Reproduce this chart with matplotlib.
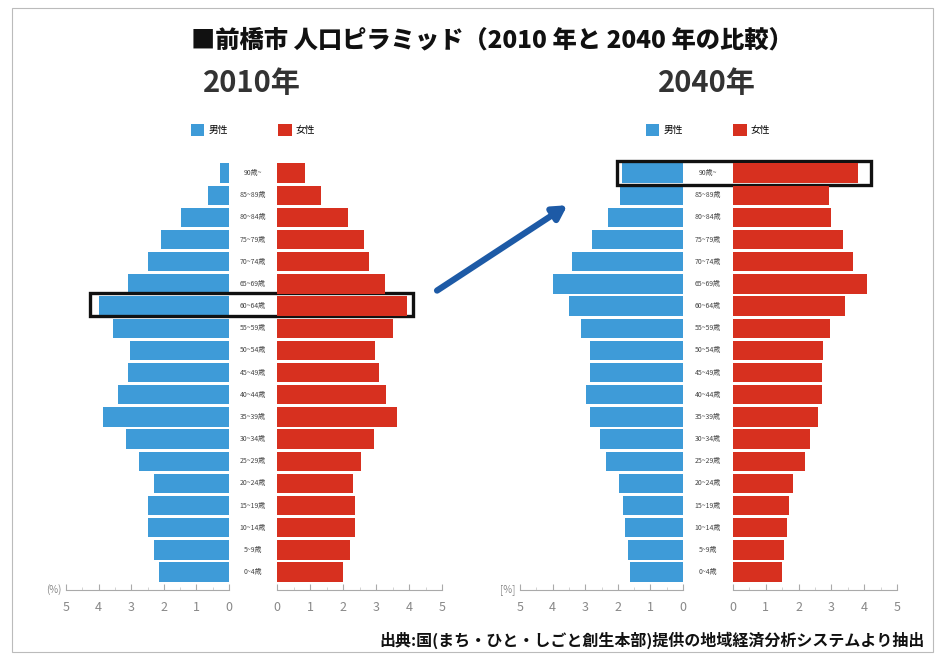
import numpy as np
import matplotlib.pyplot as plt
from matplotlib.patches import Rectangle

plt.rcParams['font.family'] = ['Noto Sans CJK JP', 'DejaVu Sans']

# age groups, bottom (0-4) to top (90+)
ages = ["0~4歳", "5~9歳", "10~14歳", "15~19歳", "20~24歳", "25~29歳", "30~34歳",
        "35~39歳", "40~44歳", "45~49歳", "50~54歳", "55~59歳", "60~64歳",
        "65~69歳", "70~74歳", "75~79歳", "80~84歳", "85~89歳", "90歳~"]

# share of population (%), bottom to top
male_2010 = [2.15, 2.3, 2.5, 2.5, 2.3, 2.75, 3.15, 3.85, 3.4, 3.1, 3.05, 3.55,
             4.0, 3.1, 2.5, 2.1, 1.48, 0.65, 0.28]
female_2010 = [2.0, 2.2, 2.35, 2.35, 2.3, 2.55, 2.95, 3.65, 3.3, 3.1, 2.97, 3.5,
               3.95, 3.27, 2.8, 2.65, 2.15, 1.33, 0.85]
male_2040 = [1.63, 1.69, 1.78, 1.84, 1.96, 2.36, 2.55, 2.85, 2.97, 2.85, 2.85, 3.13,
             3.5, 4.0, 3.4, 2.8, 2.3, 1.93, 1.87]
female_2040 = [1.5, 1.55, 1.65, 1.7, 1.83, 2.2, 2.35, 2.6, 2.7, 2.7, 2.75, 2.95,
               3.4, 4.1, 3.65, 3.35, 3.0, 2.93, 3.8]

blue = '#3e9bd8'
red = '#d7301f'
W, H = 935, 655

fig = plt.figure(figsize=(W / 100, H / 100), dpi=100)
fig.patch.set_facecolor('white')


def add_ax(x0, x1, y0=160, y1=590):
    return fig.add_axes([x0 / W, 1 - y1 / H, (x1 - x0) / W, (y1 - y0) / H])


y = np.arange(len(ages))


def style(ax, inverted):
    ax.set_xlim((5, 0) if inverted else (0, 5))
    ax.set_ylim(-0.81, 18.59)
    for s in ['top', 'left', 'right']:
        ax.spines[s].set_visible(False)
    ax.spines['bottom'].set_color('#aaaaaa')
    ax.spines['bottom'].set_linewidth(0.8)
    ax.set_yticks([])
    ax.set_xticks(range(6))
    ax.set_xticks(np.arange(0.5, 5, 1), minor=True)
    ax.tick_params(axis='x', direction='in', length=4, color='#aaaaaa',
                   labelsize=9, labelcolor='#888888', pad=8)
    ax.tick_params(axis='x', which='minor', direction='in', length=2, color='#cccccc')
    ax.patch.set_alpha(0)


def pyramid(xm0, xm1, xf0, xf1, male, female, pct_label):
    axm = add_ax(xm0, xm1)
    axf = add_ax(xf0, xf1)
    bm = axm.barh(y, male, height=0.87, color=blue, edgecolor='none')
    bf = axf.barh(y, female, height=0.87, color=red, edgecolor='none')
    style(axm, True)
    style(axf, False)
    gap = ((xm1 + xf0) / 2 - xf0) / (xf1 - xf0)
    for yi, lab in zip(y, ages):
        axf.text(gap, yi, lab, transform=axf.get_yaxis_transform(),
                 ha='center', va='center', fontsize=5, color='#444444')
    axm.text(-0.03, 0, pct_label, transform=axm.transAxes, ha='right',
             va='center', fontsize=7, color='#888888')
    return axm, axf, bm, bf


def box(axm, axf, xm, xf, y0, h):
    # frame spanning both halves: convert the female-side x into male data coords
    disp = axf.transData.transform((xf, y0))
    xr = axm.transData.inverted().transform(disp)[0]
    axm.add_patch(Rectangle((xm, y0), xr - xm, h, fill=False, edgecolor='#111111',
                            linewidth=2.4, clip_on=False, zorder=5))


axm1, axf1, bm1, bf1 = pyramid(66, 229, 277, 442, male_2010, female_2010, '(%)')
axm2, axf2, bm2, bf2 = pyramid(520, 683, 733, 897, male_2040, female_2040, '[%]')

box(axm1, axf1, 4.26, 4.12, 11.55, 1.05)
box(axm2, axf2, 2.02, 4.2, 17.45, 1.08)

# arrow from 2010 to 2040
axf1.annotate('', xy=(8.8, 16.55), xytext=(4.85, 12.7),
              arrowprops=dict(arrowstyle='-|>,head_length=0.8,head_width=0.45',
                              color='#1d5aa6', lw=4.5, shrinkA=0, shrinkB=0),
              annotation_clip=False)

# legends
for bm, bf, cx in [(bm1, bf1, 253), (bm2, bf2, 708)]:
    fig.legend([bm, bf], ['男性', '女性'], ncol=2, frameon=False,
               loc='center', bbox_to_anchor=(cx / W, 1 - 130 / H),
               fontsize=7, handlelength=1.4, handleheight=1.4,
               handletextpad=0.4, columnspacing=5.2)

fig.text(492 / W, 1 - 40 / H, '■前橋市 人口ピラミッド（2010 年と 2040 年の比較）',
         ha='center', va='center', fontsize=17.5, fontweight='heavy', color='#111111')
fig.text(252 / W, 1 - 83 / H, '2010年', ha='center', va='center',
         fontsize=21, fontweight='bold', color='#333333')
fig.text(707 / W, 1 - 83 / H, '2040年', ha='center', va='center',
         fontsize=21, fontweight='bold', color='#333333')
fig.text(925 / W, 1 - 640 / H,
         '出典:国(まち・ひと・しごと創生本部)提供の地域経済分析システムより抽出',
         ha='right', va='center', fontsize=11.5, fontweight='bold', color='#111111')

# outer frame
fig.patches.append(Rectangle((12 / W, 1 - 652 / H), (W - 14) / W, 644 / H,
                             transform=fig.transFigure, fill=False,
                             edgecolor='#bbbbbb', linewidth=0.8))

fig.savefig('out.png', dpi=100)
